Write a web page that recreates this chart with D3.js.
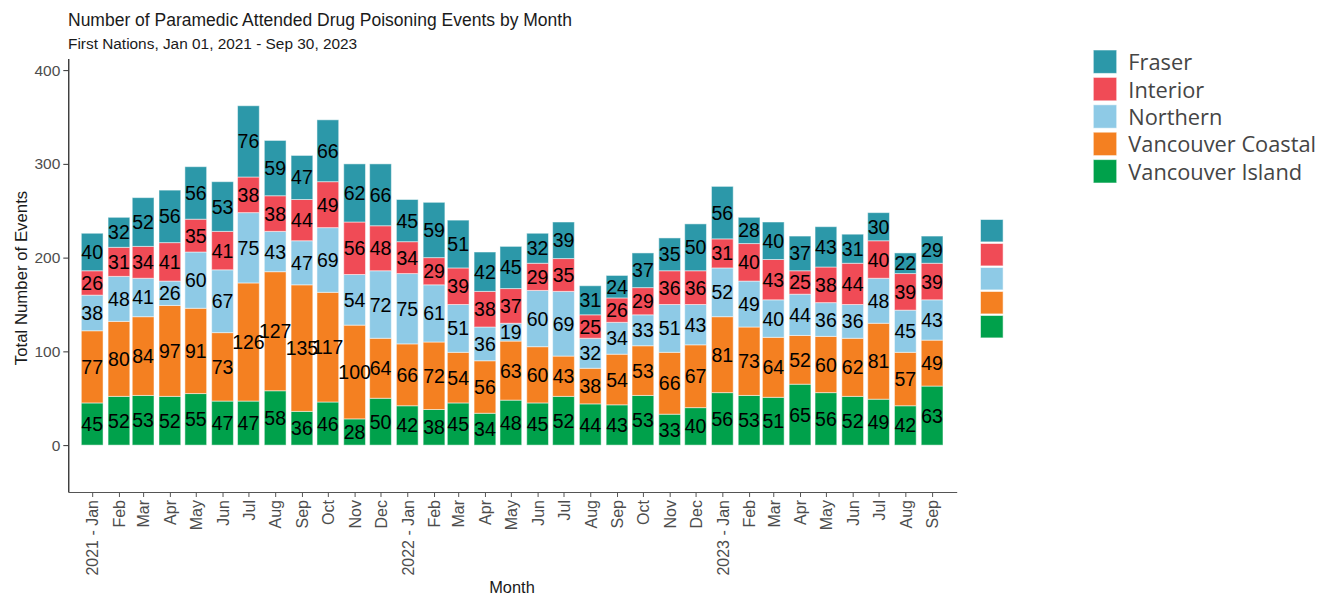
<!DOCTYPE html>
<html>
<head>
<meta charset="utf-8">
<script src="https://cdn.jsdelivr.net/npm/d3@7"></script>
<style>
  body { margin: 0; background: #fff; }
  svg { display: block; font-family: "Liberation Sans", Arial, sans-serif; }
</style>
</head>
<body>
<svg id="chart" width="1322" height="594"></svg>
<script>
// months shown on the x axis (Jan 2021 - Sep 2023)
const monthKeys = [
  "2021-01","2021-02","2021-03","2021-04","2021-05","2021-06","2021-07","2021-08","2021-09","2021-10","2021-11","2021-12",
  "2022-01","2022-02","2022-03","2022-04","2022-05","2022-06","2022-07","2022-08","2022-09","2022-10","2022-11","2022-12",
  "2023-01","2023-02","2023-03","2023-04","2023-05","2023-06","2023-07","2023-08","2023-09"
];
const tickLabels = [
  "2021 - Jan","Feb","Mar","Apr","May","Jun","Jul","Aug","Sep","Oct","Nov","Dec",
  "2022 - Jan","Feb","Mar","Apr","May","Jun","Jul","Aug","Sep","Oct","Nov","Dec",
  "2023 - Jan","Feb","Mar","Apr","May","Jun","Jul","Aug","Sep"
];

const vancouverIsland = [45,52,53,52,55,47,47,58,36,46,28,50, 42,38,45,34,48,45,52,44,43,53,33,40, 56,53,51,65,56,52,49,42,63];
const vancouverCoastal = [77,80,84,97,91,73,126,127,135,117,100,64, 66,72,54,56,63,60,43,38,54,53,66,67, 81,73,64,52,60,62,81,57,49];
const northern = [38,48,41,26,60,67,75,43,47,69,54,72, 75,61,51,36,19,60,69,32,34,33,51,43, 52,49,40,44,36,36,48,45,43];
const interior = [26,31,34,41,35,41,38,38,44,49,56,48, 34,29,39,38,37,29,35,25,26,29,36,36, 31,40,43,25,38,44,40,39,39];
const fraser = [40,32,52,56,56,53,76,59,47,66,62,66, 45,59,51,42,45,32,39,31,24,37,35,50, 56,28,40,37,43,31,30,22,29];

// legend order (top to bottom)
const regions = ["Fraser", "Interior", "Northern", "Vancouver Coastal", "Vancouver Island"];
const regionColors = ["#2c98a9", "#f04b56", "#8ecae6", "#f48021", "#00a14b"];

const yTicks = [0, 100, 200, 300, 400];

const parseMonth = d3.utcParse("%Y-%m");

/** Stacked bar chart of monthly events by health authority. */
class StackedMonthChart {

    constructor(svg) {
        this.svg = svg;
        this.dates = monthKeys.map(parseMonth);
        // one row per month, keyed by region name
        this.rows = this.dates.map((date, i) => ({
            date: date,
            "Vancouver Island": vancouverIsland[i],
            "Vancouver Coastal": vancouverCoastal[i],
            "Northern": northern[i],
            "Interior": interior[i],
            "Fraser": fraser[i]
        }));
        this.color = d3.scaleOrdinal().domain(regions).range(regionColors);
    }

    draw() {
        let svg = this.svg;
        let dates = this.dates;

        let x = d3.scaleUtc()
            .domain([Date.UTC(2020, 11, 4, 8), Date.UTC(2023, 8, 29, 12)])
            .range([68.3, 956.7]);
        let y = d3.scaleLinear()
            .domain([-50, 412.5])
            .range([492, 58.4]);

        let halfBar = 12.6 * 864e5;   // bar half width in ms

        // bottom segment first
        let stack = d3.stack().keys(regions.slice().reverse());
        let series = stack(this.rows);

        let layers = svg.append("g").attr("id", "bars")
            .selectAll("g")
            .data(series)
            .join("g")
            .attr("fill", d => this.color(d.key));

        layers.selectAll("rect")
            .data(d => d)
            .join("rect")
            .attr("x", d => x(d.data.date - halfBar))
            .attr("width", d => x(+d.data.date + halfBar) - x(d.data.date - halfBar))
            .attr("y", d => y(d[1]))
            .attr("height", d => y(d[0]) - y(d[1]))
            .attr("stroke", "#ffffff")
            .attr("stroke-opacity", 0.5)
            .attr("stroke-width", 1);

        // value labels in the middle of each segment
        let labels = svg.append("g").attr("id", "labels");
        series.forEach(s => {
            labels.selectAll(null)
                .data(s)
                .join("text")
                .attr("x", d => x(d.data.date))
                .attr("y", d => y((d[0] + d[1]) / 2))
                .attr("dy", "0.36em")
                .attr("text-anchor", "middle")
                .style("font-size", "19.5px")
                .style("fill", "#000")
                .text(d => d[1] - d[0]);
        });

        // axes
        let yAxis = d3.axisLeft(y).tickValues(yTicks).tickSize(5).tickSizeOuter(0).tickPadding(3);
        let gy = svg.append("g")
            .attr("id", "yAxis")
            .attr("transform", "translate(" + 68.3 + ",0)")
            .call(yAxis);
        gy.select(".domain").attr("stroke", "#000").attr("stroke-width", 1.1);
        gy.selectAll(".tick line").attr("stroke", "#333");
        gy.selectAll("text").style("font-size", "15.5px").style("fill", "#4d4d4d");

        let xAxis = d3.axisBottom(x).tickValues(dates).tickSize(5).tickSizeOuter(0)
            .tickFormat((d, i) => tickLabels[i]);
        let gx = svg.append("g")
            .attr("id", "xAxis")
            .attr("transform", "translate(0," + 492 + ")")
            .call(xAxis);
        gx.select(".domain").attr("stroke", "#555").attr("stroke-width", 1.1);
        gx.selectAll(".tick line").attr("stroke", "#555");
        gx.selectAll("text")
            .style("font-size", "16px")
            .style("fill", "#4d4d4d")
            .style("text-anchor", "end")
            .attr("x", -8)
            .attr("y", 0)
            .attr("dy", "0.36em")
            .attr("transform", "rotate(-90)");

        // titles
        svg.append("text")
            .attr("x", 68).attr("y", 26)
            .style("font-size", "17.5px").style("fill", "#1a1a1a")
            .text("Number of Paramedic Attended Drug Poisoning Events by Month");
        svg.append("text")
            .attr("x", 68).attr("y", 49)
            .style("font-size", "15.4px").style("fill", "#1a1a1a")
            .text("First Nations, Jan 01, 2021 - Sep 30, 2023");
        svg.append("text")
            .attr("x", 512).attr("y", 592.5)
            .attr("text-anchor", "middle")
            .style("font-size", "16.4px").style("fill", "#1a1a1a")
            .text("Month");
        svg.append("text")
            .attr("transform", "translate(26.5," + 278 + ") rotate(-90)")
            .attr("text-anchor", "middle")
            .style("font-size", "16.8px").style("fill", "#1a1a1a")
            .text("Total Number of Events");

        this.drawLegends();
    }

    drawLegends() {
        let svg = this.svg;
        let color = this.color;

        // labelled legend, upper right
        let legend = svg.append("g").attr("id", "legend")
            .attr("transform", "translate(1093.3,50)");
        let items = legend.selectAll("g")
            .data(regions)
            .join("g")
            .attr("transform", (d, i) => "translate(0," + i * 27.4 + ")");
        items.append("rect")
            .attr("width", 23.4).attr("height", 23.4)
            .attr("fill", d => color(d))
            .attr("stroke", "#ffffff").attr("stroke-opacity", 0.55).attr("stroke-width", 1);
        items.append("text")
            .attr("x", 35).attr("y", 12.4).attr("dy", "0.36em")
            .style("font-family", "'Open Sans', sans-serif")
            .style("font-size", "21.8px")
            .style("fill", "#454545")
            .text(d => d);

        // key without labels, beside the plot
        let keys = svg.append("g").attr("id", "keys")
            .attr("transform", "translate(980.5,219.5)");
        keys.selectAll("rect")
            .data(regions)
            .join("rect")
            .attr("y", (d, i) => i * 24)
            .attr("width", 22.6).attr("height", 22.4)
            .attr("fill", d => color(d))
            .attr("stroke", "#ffffff").attr("stroke-opacity", 0.55).attr("stroke-width", 1);
    }
}

let chart = new StackedMonthChart(d3.select("#chart"));
chart.draw();
</script>
</body>
</html>
